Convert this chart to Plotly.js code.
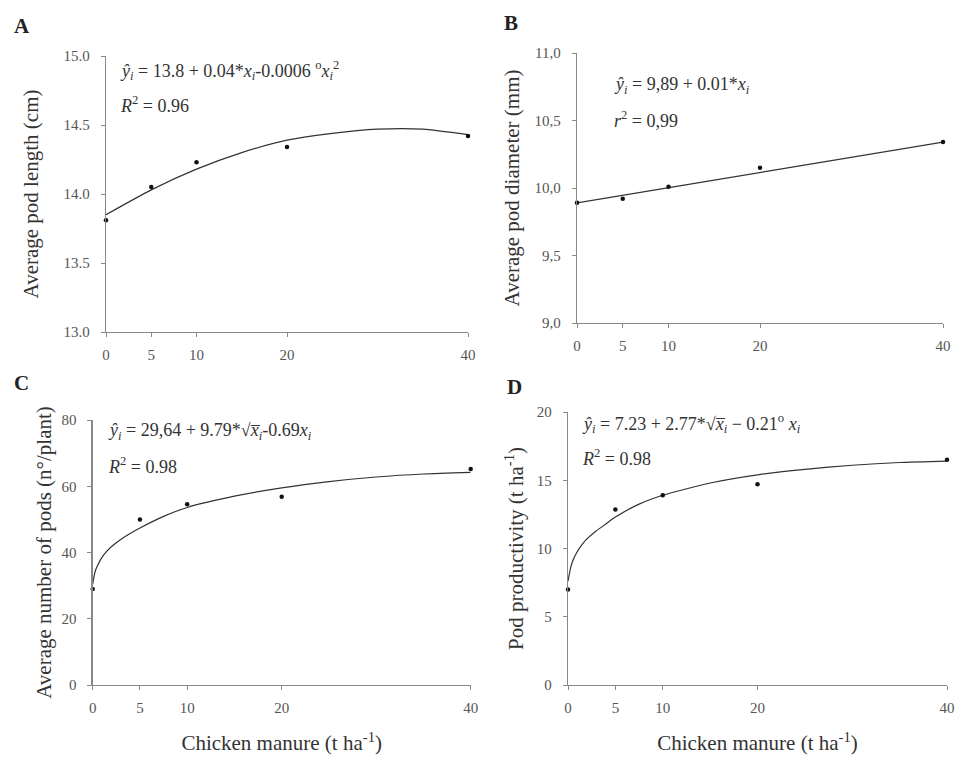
<!DOCTYPE html>
<html>
<head>
<meta charset="utf-8">
<script src="https://cdn.plot.ly/plotly-3.0.1.min.js"></script>
<style>html,body{margin:0;padding:0;background:#fff;}#chart{width:955px;height:757px;}</style>
</head>
<body>
<div id="chart"></div>
<script>
// Doses of chicken manure (t/ha)
const doses = [0, 5, 10, 20, 40];
const xTicks = [0, 5, 10, 20, 40];

// A: average pod length (cm)
const podLength = [13.81, 14.05, 14.23, 14.34, 14.42];
const fitA_x = [0, 5, 10, 15, 20, 25, 30, 35, 40];
const fitA_y = [13.85, 14.03, 14.18, 14.30, 14.39, 14.44, 14.47, 14.47, 14.43];

// B: average pod diameter (mm)
const podDiameter = [9.89, 9.92, 10.01, 10.15, 10.34];
const fitB_x = [0, 40];
const fitB_y = [9.89, 10.34];

// C: average number of pods (n°/plant)
const podNumber = [29.0, 50.0, 54.6, 56.8, 65.2];
const fitC_x = [0, 0.25, 0.5, 1, 1.5, 2, 3, 4, 5, 7.5, 10, 15, 20, 25, 30, 35, 40];
const fitC_y = [30.5, 34.2, 36.0, 38.6, 40.4, 41.8, 44.0, 45.8, 47.4, 50.9, 53.6, 57.0, 59.5, 61.4, 62.8, 63.7, 64.2];

// D: pod productivity (t/ha)
const podProd = [7.0, 12.85, 13.9, 14.7, 16.5];
const fitD_x = [0, 0.25, 0.5, 1, 1.5, 2, 3, 4, 5, 7.5, 10, 15, 20, 25, 30, 35, 40];
const fitD_y = [7.6, 8.5, 9.1, 9.8, 10.3, 10.7, 11.3, 11.8, 12.3, 13.25, 13.9, 14.8, 15.4, 15.8, 16.1, 16.3, 16.4];

const W = 955, H = 757;
const px = v => v / W;
const py = v => 1 - v / H;

const serif = 'Liberation Serif, Tinos, DejaVu Serif, Noto Serif, serif';
const tickFont = {family: serif, size: 15, color: '#555'};
const titleFont = {family: serif, size: 21, color: '#333'};

function pts(x, y, xa, ya) {
  return {x: x, y: y, xaxis: xa, yaxis: ya, type: 'scatter', mode: 'markers',
    marker: {color: '#111', size: 4.5}, showlegend: false, cliponaxis: false, hoverinfo: 'x+y'};
}
function fit(x, y, xa, ya) {
  return {x: x, y: y, xaxis: xa, yaxis: ya, type: 'scatter', mode: 'lines',
    line: {color: '#333', width: 1.2, shape: 'spline', smoothing: 0.6}, showlegend: false, hoverinfo: 'skip'};
}

const data = [
  fit(fitA_x, fitA_y, 'x', 'y'), pts(doses, podLength, 'x', 'y'),
  fit(fitB_x, fitB_y, 'x2', 'y2'), pts(doses, podDiameter, 'x2', 'y2'),
  fit(fitC_x, fitC_y, 'x3', 'y3'), pts(doses, podNumber, 'x3', 'y3'),
  fit(fitD_x, fitD_y, 'x4', 'y4'), pts(doses, podProd, 'x4', 'y4')
];

function xax(d0, d1, yanchor, title) {
  const a = {domain: [px(d0), px(d1)], range: [0, 40], anchor: yanchor,
    tickmode: 'array', tickvals: xTicks, ticktext: xTicks.map(String),
    showgrid: false, zeroline: false, showline: true, linecolor: '#888', linewidth: 1.3,
    ticks: 'outside', ticklen: 4, tickcolor: '#888', tickfont: tickFont, automargin: false,
    ticklabelstandoff: 5};
  if (title) a.title = {text: title, font: titleFont, standoff: 20};
  return a;
}
function yax(top, bottom, xanchor, range, dtick, title, standoff, fmt, texts) {
  const a = {domain: [py(bottom), py(top)], range: range, anchor: xanchor,
    showgrid: false, zeroline: false, showline: true, linecolor: '#888', linewidth: 1.3,
    ticks: 'outside', ticklen: 4, tickcolor: '#888', tickfont: tickFont, automargin: false,
    ticklabelstandoff: 8,
    title: {text: title, font: titleFont, standoff: standoff}};
  if (texts) { a.tickmode = 'array'; a.tickvals = texts.vals; a.ticktext = texts.text; }
  else { a.dtick = dtick; a.tickformat = fmt; }
  return a;
}

const bVals = [9.0, 9.5, 10.0, 10.5, 11.0];
const bText = ['9,0', '9,5', '10,0', '10,5', '11,0'];

const layout = {
  width: W, height: H,
  margin: {l: 0, r: 0, t: 0, b: 0},
  paper_bgcolor: '#fff', plot_bgcolor: '#fff',
  showlegend: false,
  font: {family: serif},
  xaxis: xax(106, 468, 'y'),
  yaxis: yax(56, 332, 'x', [13, 15], 0.5, 'Average pod length (cm)', 19, '.1f'),
  xaxis2: xax(577, 943, 'y2'),
  yaxis2: yax(53, 323, 'x2', [9, 11], 0.5, 'Average pod diameter (mm)', 9, '.1f', {vals: bVals, text: bText}),
  xaxis3: xax(92.7, 470.7, 'y3', 'Chicken manure (t ha<sup>-1</sup>)'),
  yaxis3: yax(420, 685, 'x3', [0, 80], 20, 'Average number of pods (n°/plant)', 4, 'd'),
  xaxis4: xax(568, 947, 'y4', 'Chicken manure (t ha<sup>-1</sup>)'),
  yaxis4: yax(412, 685, 'x4', [0, 20], 5, 'Pod productivity (t ha<sup>-1</sup>)', 7, 'd'),
  annotations: []
};

const eqFont = {family: serif, size: 18, color: '#333'};
function note(x, y, text, font, anchor) {
  layout.annotations.push({xref: 'paper', yref: 'paper', x: px(x), y: py(y), text: text,
    showarrow: false, xanchor: anchor || 'left', yanchor: 'middle', font: font || eqFont});
}
const rx = '<i>x\u0305<sub>i</sub></i>';
note(118, 70, '<i>ŷ<sub>i</sub></i> = 13.8 + 0.04*<i>x<sub>i</sub></i>-0.0006 <sup>o</sup><i>x<sub>i</sub></i><sup>2</sup>');
note(118, 105, '<i>R</i><sup>2</sup> = 0.96');
note(612, 85, '<i>ŷ<sub>i</sub></i> = 9,89 + 0.01*<i>x<sub>i</sub></i>');
note(612, 119, '<i>r</i><sup>2</sup> = 0,99');
note(106, 431, '<i>ŷ<sub>i</sub></i> = 29,64 + 9.79*√' + rx + '-0.69<i>x<sub>i</sub></i>');
note(106, 465, '<i>R</i><sup>2</sup> = 0.98');
note(580, 423, '<i>ŷ<sub>i</sub></i> = 7.23 + 2.77*√' + rx + ' − 0.21<sup>o</sup> <i>x<sub>i</sub></i>');
note(580, 457, '<i>R</i><sup>2</sup> = 0.98');

const letterFont = {family: serif, size: 21, color: '#222'};
note(12, 26, '<b>A</b>', letterFont);
note(502, 23, '<b>B</b>', letterFont);
note(12, 383, '<b>C</b>', letterFont);
note(505, 387, '<b>D</b>', letterFont);

Plotly.newPlot('chart', data, layout, {displayModeBar: false, staticPlot: true});
</script>
</body>
</html>
